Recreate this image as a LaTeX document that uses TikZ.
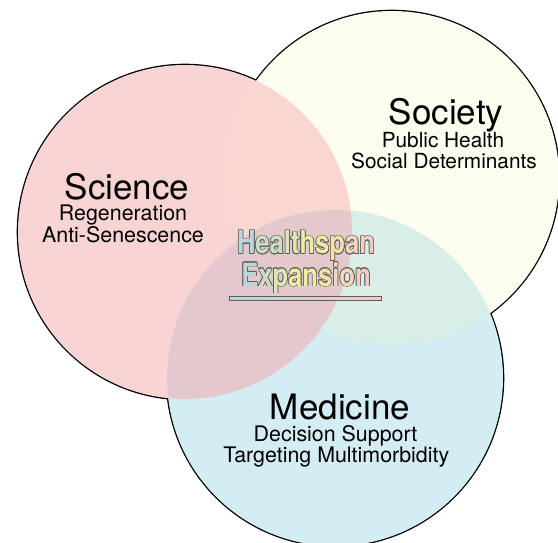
\documentclass[tikz,border=0pt]{standalone}
\usepackage{fontspec}
\setmainfont{TeX Gyre Heros}
\newfontfamily\hsfamily{TeX Gyre Heros}
\definecolor{socC}{RGB}{252,252,239}
\definecolor{sciC}{RGB}{249,212,212}
\definecolor{medC}{RGB}{212,236,243}
\definecolor{socsci}{RGB}{250,214,208}
\definecolor{scimed}{RGB}{228,200,206}
\definecolor{socmed}{RGB}{217,238,230}
\definecolor{triple}{RGB}{228,201,204}
\definecolor{olgray}{RGB}{95,95,95}
\definecolor{g1}{RGB}{188,213,214}
\definecolor{g2}{RGB}{204,222,198}
\definecolor{g3}{RGB}{222,230,178}
\definecolor{g4}{RGB}{238,236,160}
\definecolor{g5}{RGB}{243,226,168}
\definecolor{g6}{RGB}{245,214,182}
\definecolor{g7}{RGB}{245,203,194}
\newif\ifHSoutline
\newcommand\gl[2]{{\ifHSoutline\color{olgray}\else\color{#1}\fi #2}}
\newcommand\HSone{\scalebox{0.8}[1]{\gl{g1}{H}\gl{g2}{e}\gl{g2}{a}\gl{g3}{l}\gl{g3}{t}\gl{g4}{h}\gl{g4}{s}\gl{g5}{p}\gl{g6}{a}\gl{g7}{n}}}
\newcommand\HStwo{\scalebox{0.8}[1]{\gl{g1}{E}\gl{g2}{x}\gl{g3}{p}\gl{g4}{a}\gl{g4}{n}\gl{g5}{s}\gl{g6}{i}\gl{g6}{o}\gl{g7}{n}}}
\begin{document}
\begin{tikzpicture}[x=1pt,y=-1pt,
  ring/.style={draw=black,line width=2.6pt},
  title/.style={inner sep=0pt,anchor=base,font=\fontsize{35}{40}\selectfont},
  sub/.style={inner sep=0pt,anchor=base,font=\fontsize{21.4}{24}\selectfont},
  subs/.style={inner sep=0pt,anchor=base,font=\fontsize{20.8}{24}\selectfont},
  hs/.style={inner sep=0pt,anchor=base,font=\hsfamily\bfseries\fontsize{32}{36}\selectfont}]
\useasboundingbox (0,0) rectangle (558,543);
\coordinate (soc) at (392,178);
\coordinate (sci) at (185,232);
\coordinate (med) at (335,378);
% outlines
\path[ring] (soc) circle[radius=167] (sci) circle[radius=167] (med) circle[radius=168];
% fills
\fill[socC] (soc) circle[radius=167];
\fill[sciC] (sci) circle[radius=167];
\fill[medC] (med) circle[radius=168];
\begin{scope}
  \clip (sci) circle[radius=167];
  \fill[scimed] (med) circle[radius=168];
\end{scope}
\begin{scope}
  \clip (soc) circle[radius=167];
  \fill[socsci] (sci) circle[radius=167];
  \fill[socmed] (med) circle[radius=168];
  \clip (sci) circle[radius=167];
  \fill[triple] (med) circle[radius=168];
\end{scope}
% labels
\node[title] (scit) at (127,200) {Science};
\node[sub] (scis1) at (123,221) {Regeneration};
\node[sub] (scis2) at (123,243) {Anti-Senescence};
\node[title] (soct) at (446,125) {Society};
\node[subs] (socs1) at (443,147.5) {Public Health};
\node[subs] (socs2) at (444,168) {Social Determinants};
\node[title] (medt) at (340,419) {Medicine};
\node[sub] (meds1) at (335.5,441) {Decision Support};
\node[sub] (meds2) at (336.3,462) {Targeting Multimorbidity};
% centre title with outline
\foreach \a in {0,30,...,330}{
  \node[hs,shift={(\a:0.75)}] (hso\a) at (306,254) {\HSoutlinetrue\HSone};
  \node[hs,shift={(\a:0.75)}] (exo\a) at (306,286) {\HSoutlinetrue\HStwo};
}
\node[hs] (hs) at (306,254) {\HSone};
\node[hs] (ex) at (306,286) {\HStwo};
\shade[left color=g1,middle color=g4,right color=g7] (229.5,296) rectangle (381.5,300.5);
\draw[olgray,line width=0.7pt] (229.5,296) rectangle (381.5,300.5);
\end{tikzpicture}
\end{document}
